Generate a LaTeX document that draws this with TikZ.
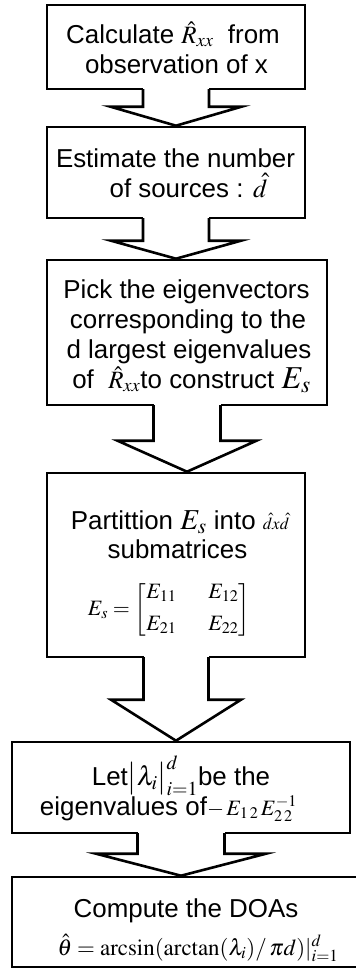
\documentclass[tikz,border=0pt]{standalone}
\usepackage{amsmath}
\usepackage{mathptmx}
\usepackage{fontspec}
\setmainfont{Liberation Sans}
\usetikzlibrary{calc}
\newcommand\mth[2]{{\fontsize{#1}{#1}\selectfont$#2$}}
\newcommand\blockarrow[5]{%
  \coordinate (tip) at (#1.south |- #2.north);
  \fill[white] ($(#1.south)+(-#3,-2)$) rectangle ($(#1.south)+(#3,2)$);
  \draw[arrowline] ($(#1.south)+(-#3,-1.3)$) -- ($(tip)+(-#3,-#5)$) -- ($(tip)+(-#4,-#5)$) -- (tip)
     -- ($(tip)+(#4,-#5)$) -- ($(tip)+(#3,-#5)$) -- ($(#1.south)+(#3,-1.3)$);
}
\begin{document}
\begin{tikzpicture}[x=1bp,y=-1bp,
  box/.style={draw=black, line width=2.6bp, fill=white, inner sep=0pt},
  txt/.style={inner sep=0pt, anchor=base, font=\fontsize{26}{30}\selectfont},
  arrowline/.style={draw=black, line width=2.6bp, line join=miter, miter limit=20}]
\useasboundingbox[fill=white] (0,0) rectangle (355,969);
% boxes
\node[box, minimum width=258bp, minimum height=84bp] (b1) at (176,47) {};
\node[box, minimum width=258bp, minimum height=91bp] (b2) at (176,172.5) {};
\node[box, minimum width=280bp, minimum height=145bp] (b3) at (187,332.5) {};
\node[box, minimum width=258bp, minimum height=184bp] (b4) at (176,565) {};
\node[box, minimum width=338bp, minimum height=91bp] (b5) at (181,787.5) {};
\node[box, minimum width=352bp, minimum height=90bp] (b6) at (188,922) {};
% texts
\node[txt] (t1a) at (173,43) {Calculate \mth{25}{\hat{R}_{xx}}\ \ from};
\node[txt] (t1b) at (176.5,73) {observation of x};
\node[txt] (t2a) at (175.5,167) {Estimate the number};
\node[txt] (t2b) at (188.5,197) {of sources : \mth{26}{\hat{d}}};
\node[txt] (t3a) at (186.5,298) {Pick the eigenvectors};
\node[txt] (t3b) at (188,328) {corresponding to the};
\node[txt] (t3c) at (189,358) {d largest eigenvalues};
\node[txt] (t3d) at (191.5,388) {of \ \mth{25}{\hat{R}_{xx}}to construct \mth{32}{E_s}};
\node[txt] (t4a) at (180,529) {Partittion \mth{29}{E_s}\ into \mth{17}{\hat{d}x\hat{d}}};
\node[txt] (t4b) at (177.5,558) {submatrices};
\node[txt, anchor=center] (t4c) at (169,610)
  {\mth{22}{E_s=\begin{bmatrix}E_{11}&\quad E_{12}\\[10pt]E_{21}&\quad E_{22}\end{bmatrix}}};
\node[txt] (t5a) at (181,785) {Let\mth{27}{\big|\lambda_i\big|_{i=1}^{d}}be the};
\node[txt] (t5b) at (168.5,815) {eigenvalues of\mth{22}{-\,E_{1\,2}\,E_{2\,2}^{-1}}};
\node[txt] (t6a) at (186,917) {Compute the DOAs};
\node[txt] (t6b) at (198,955) {\mth{23}{\hat{\theta}=\arcsin(\arctan(\lambda_i)/\,\pi d)|_{i=1}^{d}}};
% block arrows
\blockarrow{b1}{b2}{33}{65.5}{19}
\blockarrow{b2}{b3}{33}{65}{18}
\blockarrow{b3}{b4}{33.5}{69.5}{31}
\blockarrow{b4}{b5}{32.5}{65}{41}
\blockarrow{b5}{b6}{43.5}{85}{22}
\end{tikzpicture}
\end{document}
